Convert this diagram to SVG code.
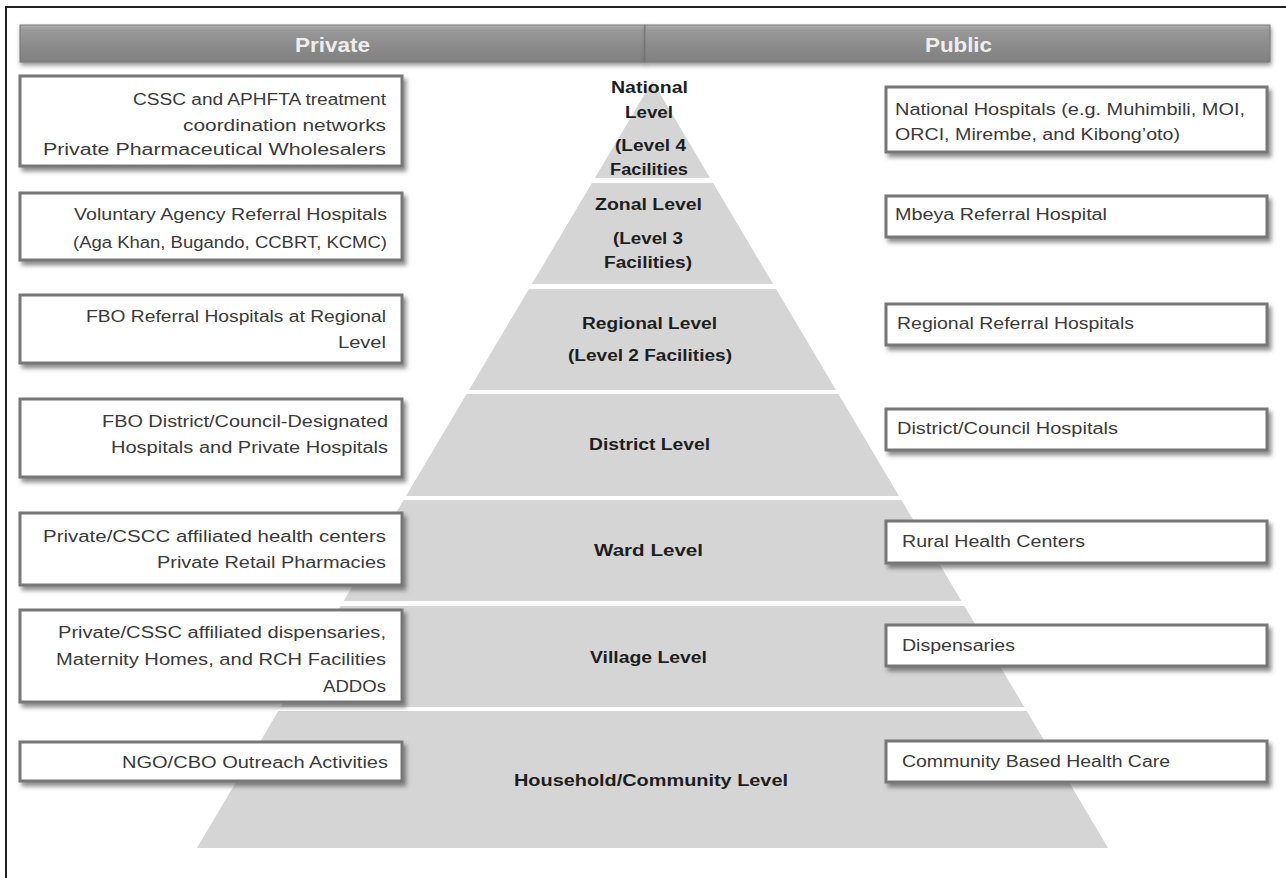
<svg xmlns="http://www.w3.org/2000/svg" width="1286" height="878" viewBox="0 0 1286 878">
<defs>
<filter id="sh" x="-5%" y="-20%" width="112%" height="150%">
<feDropShadow dx="3" dy="4" stdDeviation="2" flood-color="#444" flood-opacity="0.6"/>
</filter>
<filter id="hsh" x="-2%" y="-20%" width="104%" height="160%">
<feDropShadow dx="1" dy="3" stdDeviation="2" flood-color="#333" flood-opacity="0.5"/>
</filter>
<linearGradient id="bar" x1="0" y1="0" x2="0" y2="1">
<stop offset="0" stop-color="#b4b4b4"/>
<stop offset="0.12" stop-color="#9a9a9a"/>
<stop offset="0.5" stop-color="#8d8d8d"/>
<stop offset="1" stop-color="#808080"/>
</linearGradient>
</defs>
<style>
.box{fill:#ffffff;stroke:#777777;stroke-width:3;filter:url(#sh)}
.t{font-family:"Liberation Sans",Arial,sans-serif;font-size:16px;fill:#3a3a3a}
.p{font-family:"Liberation Sans",Arial,sans-serif;font-size:16px;font-weight:bold;fill:#1e1e1e}
.lay{fill:#d5d5d5}
.hd{font-family:"Liberation Sans",Arial,sans-serif;font-size:21px;font-weight:bold;fill:#eeeeee}
</style>
<rect x="0" y="0" width="1286" height="878" fill="#ffffff"/>
<g id="frame" stroke="#222" stroke-width="2" fill="none">
<line x1="5" y1="7" x2="1286" y2="7"/>
<line x1="6" y1="7" x2="6" y2="878"/>
</g>
<g id="header-private">
<rect x="20" y="25" width="625" height="37" fill="url(#bar)" stroke="#777" stroke-width="1" filter="url(#hsh)"/>
<text class="hd" x="295" y="52" textLength="75" lengthAdjust="spacingAndGlyphs">Private</text>
</g>
<g id="header-public">
<rect x="645" y="25" width="625" height="37" fill="url(#bar)" stroke="#777" stroke-width="1" filter="url(#hsh)"/>
<text class="hd" x="925" y="52" textLength="67" lengthAdjust="spacingAndGlyphs">Public</text>
</g>
<g id="pyramid">
<g id="level-national"><polygon class="lay" points="652.5,81 710.1,178 594.9,178"/>
<text class="p" x="611" y="93" textLength="77" lengthAdjust="spacingAndGlyphs">National</text>
<text class="p" x="625" y="118" textLength="48" lengthAdjust="spacingAndGlyphs">Level</text>
<text class="p" x="615" y="151" textLength="71" lengthAdjust="spacingAndGlyphs">(Level 4</text>
<text class="p" x="610" y="175" textLength="78" lengthAdjust="spacingAndGlyphs">Facilities</text></g>
<g id="level-zonal"><polygon class="lay" points="591.9,183 713.1,183 773.1,284 531.9,284"/>
<text class="p" x="595" y="210" textLength="107" lengthAdjust="spacingAndGlyphs">Zonal  Level</text>
<text class="p" x="613" y="244" textLength="70" lengthAdjust="spacingAndGlyphs">(Level 3</text>
<text class="p" x="604" y="268" textLength="88" lengthAdjust="spacingAndGlyphs">Facilities)</text></g>
<g id="level-regional"><polygon class="lay" points="528.9,289 776.1,289 836,390 469,390"/>
<text class="p" x="582" y="329" textLength="135" lengthAdjust="spacingAndGlyphs">Regional Level</text>
<text class="p" x="568" y="361" textLength="164" lengthAdjust="spacingAndGlyphs">(Level 2 Facilities)</text></g>
<g id="level-district"><polygon class="lay" points="466.6,394 838.4,394 899,496 406,496"/>
<text class="p" x="589" y="450" textLength="121" lengthAdjust="spacingAndGlyphs">District Level</text></g>
<g id="level-ward"><polygon class="lay" points="403.6,500 901.4,500 961.4,601 343.6,601"/>
<text class="p" x="594" y="556" textLength="109" lengthAdjust="spacingAndGlyphs">Ward Level</text></g>
<g id="level-village"><polygon class="lay" points="340.6,606 964.4,606 1024.3,707 280.7,707"/>
<text class="p" x="590" y="663" textLength="117" lengthAdjust="spacingAndGlyphs">Village Level</text></g>
<g id="level-household"><polygon class="lay" points="278.3,711 1026.7,711 1108.1,848 196.9,848"/>
<text class="p" x="514" y="786" textLength="274" lengthAdjust="spacingAndGlyphs">Household/Community  Level</text></g>
</g>
<g id="private-national"><rect class="box" x="20" y="76" width="382" height="90"/>
<text class="t" x="133" y="105" textLength="253" lengthAdjust="spacingAndGlyphs">CSSC and APHFTA treatment</text>
<text class="t" x="183" y="131" textLength="203" lengthAdjust="spacingAndGlyphs">coordination networks</text>
<text class="t" x="43" y="155" textLength="343" lengthAdjust="spacingAndGlyphs">Private Pharmaceutical Wholesalers</text></g>
<g id="private-zonal"><rect class="box" x="20" y="193" width="382" height="67"/>
<text class="t" x="74" y="220" textLength="313" lengthAdjust="spacingAndGlyphs">Voluntary Agency Referral Hospitals</text>
<text class="t" x="73" y="248" textLength="314" lengthAdjust="spacingAndGlyphs">(Aga Khan, Bugando, CCBRT, KCMC)</text></g>
<g id="private-regional"><rect class="box" x="20" y="295" width="382" height="68"/>
<text class="t" x="86" y="322" textLength="300" lengthAdjust="spacingAndGlyphs">FBO Referral Hospitals at Regional</text>
<text class="t" x="338" y="348" textLength="48" lengthAdjust="spacingAndGlyphs">Level</text></g>
<g id="private-district"><rect class="box" x="20" y="399" width="382" height="78"/>
<text class="t" x="102" y="427" textLength="286" lengthAdjust="spacingAndGlyphs">FBO District/Council-Designated</text>
<text class="t" x="111" y="453" textLength="277" lengthAdjust="spacingAndGlyphs">Hospitals and Private Hospitals</text></g>
<g id="private-ward"><rect class="box" x="20" y="513" width="382" height="72"/>
<text class="t" x="43" y="542" textLength="343" lengthAdjust="spacingAndGlyphs">Private/CSCC affiliated health centers</text>
<text class="t" x="157" y="568" textLength="229" lengthAdjust="spacingAndGlyphs">Private Retail Pharmacies</text></g>
<g id="private-village"><rect class="box" x="20" y="610" width="382" height="92"/>
<text class="t" x="58" y="638" textLength="328" lengthAdjust="spacingAndGlyphs">Private/CSSC affiliated dispensaries,</text>
<text class="t" x="56" y="665" textLength="330" lengthAdjust="spacingAndGlyphs">Maternity Homes, and RCH Facilities</text>
<text class="t" x="323" y="692" textLength="63" lengthAdjust="spacingAndGlyphs">ADDOs</text></g>
<g id="private-household"><rect class="box" x="20" y="742" width="382" height="39"/>
<text class="t" x="122" y="768" textLength="266" lengthAdjust="spacingAndGlyphs">NGO/CBO Outreach Activities</text></g>
<g id="public-national"><rect class="box" x="886" y="87" width="381" height="65"/>
<text class="t" x="895" y="115" textLength="350" lengthAdjust="spacingAndGlyphs">National Hospitals (e.g. Muhimbili, MOI,</text>
<text class="t" x="895" y="140" textLength="285" lengthAdjust="spacingAndGlyphs">ORCI, Mirembe, and Kibong’oto)</text></g>
<g id="public-zonal"><rect class="box" x="886" y="196" width="381" height="41"/>
<text class="t" x="895" y="220" textLength="212" lengthAdjust="spacingAndGlyphs">Mbeya Referral Hospital</text></g>
<g id="public-regional"><rect class="box" x="886" y="304" width="381" height="41"/>
<text class="t" x="897" y="329" textLength="237" lengthAdjust="spacingAndGlyphs">Regional Referral Hospitals</text></g>
<g id="public-district"><rect class="box" x="886" y="409" width="381" height="41"/>
<text class="t" x="897" y="434" textLength="221" lengthAdjust="spacingAndGlyphs">District/Council Hospitals</text></g>
<g id="public-ward"><rect class="box" x="886" y="521" width="381" height="42"/>
<text class="t" x="902" y="547" textLength="183" lengthAdjust="spacingAndGlyphs">Rural Health Centers</text></g>
<g id="public-village"><rect class="box" x="886" y="625" width="381" height="41"/>
<text class="t" x="902" y="651" textLength="113" lengthAdjust="spacingAndGlyphs">Dispensaries</text></g>
<g id="public-household"><rect class="box" x="886" y="741" width="381" height="41"/>
<text class="t" x="902" y="767" textLength="268" lengthAdjust="spacingAndGlyphs">Community Based Health Care</text></g>
<g id="connectors"/>
</svg>
